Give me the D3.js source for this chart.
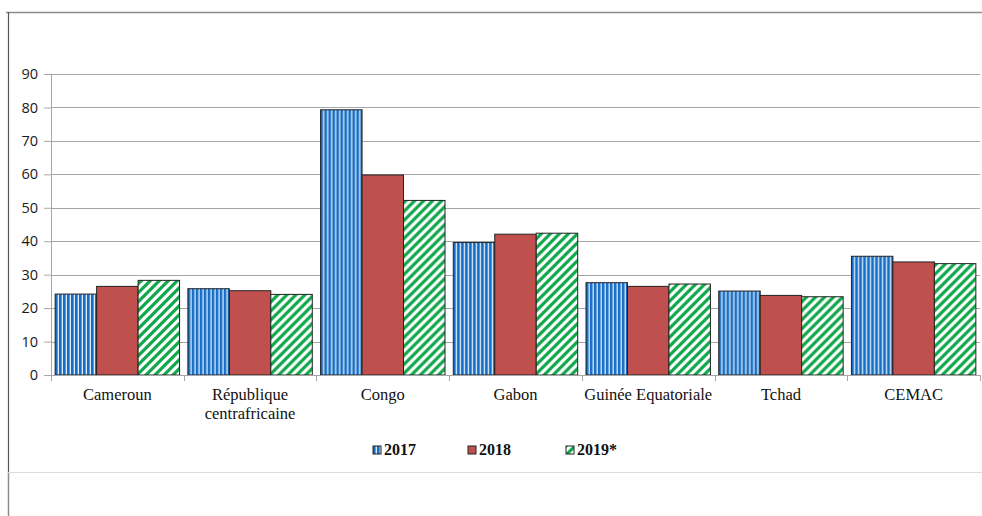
<!DOCTYPE html>
<html>
<head>
<meta charset="utf-8">
<script src="https://cdn.jsdelivr.net/npm/d3@7"></script>
<style>
  body { margin: 0; background: #fff; }
  svg { display: block; }
</style>
</head>
<body>
<div id="chart"></div>
<script>
// data
const categories = ["Cameroun", "République centrafricaine", "Congo", "Gabon", "Guinée Equatoriale", "Tchad", "CEMAC"];
const seriesNames = ["2017", "2018", "2019*"];
const values2017 = [24.2, 25.8, 79.3, 39.6, 27.6, 25.1, 35.5];
const values2018 = [26.5, 25.2, 59.8, 42.1, 26.5, 23.8, 33.8];
const values2019 = [28.3, 24.1, 52.2, 42.4, 27.2, 23.4, 33.3];
const yTicks = [0, 10, 20, 30, 40, 50, 60, 70, 80, 90];

const W = 982, H = 516;
const margin = { top: 74, right: 2, bottom: 141, left: 51 };
const width = W - margin.left - margin.right;
const height = H - margin.top - margin.bottom;

const svg = d3.select("#chart").append("svg")
  .attr("width", W).attr("height", H);

// patterns
const defs = svg.append("defs");
const p17 = defs.append("pattern").attr("id", "p2017")
  .attr("patternUnits", "userSpaceOnUse").attr("width", 4).attr("height", 4);
p17.append("rect").attr("width", 4).attr("height", 4).attr("fill", "#a4cbef");
p17.append("rect").attr("width", 2.5).attr("height", 4).attr("fill", "#176cc3");
p17.append("rect").attr("x", 3.4).attr("width", 0.6).attr("height", 4).attr("fill", "#ffffff");

const p19 = defs.append("pattern").attr("id", "p2019")
  .attr("patternUnits", "userSpaceOnUse").attr("width", 9).attr("height", 9);
p19.append("rect").attr("width", 9).attr("height", 9).attr("fill", "#fff");
p19.append("path")
  .attr("d", "M-1,10 L10,-1 M-3,3 L3,-3 M6,12 L12,6")
  .attr("stroke", "#0fa84a").attr("stroke-width", 3.2);

const fills = ["url(#p2017)", "#c0504d", "url(#p2019)"];

// frame around the chart area (as in the source document)
svg.append("line").attr("x1", 6).attr("x2", W).attr("y1", 12.5).attr("y2", 12.5)
  .attr("stroke", "#8c8c8c").attr("stroke-width", 1.5);
svg.append("line").attr("x1", 8.5).attr("x2", 8.5).attr("y1", 12).attr("y2", 472)
  .attr("stroke", "#555").attr("stroke-width", 1.2);
svg.append("line").attr("x1", 8.5).attr("x2", 8.5).attr("y1", 472).attr("y2", H)
  .attr("stroke", "#8c8c8c").attr("stroke-width", 1.5);
svg.append("line").attr("x1", 8).attr("x2", W).attr("y1", 472.5).attr("y2", 472.5)
  .attr("stroke", "#dcdcdc").attr("stroke-width", 1);

const g = svg.append("g").attr("transform", `translate(${margin.left},${margin.top})`);

const x0 = d3.scaleBand().domain(categories).range([0, width]).paddingInner(0).paddingOuter(0);
const x1 = d3.scaleBand().domain(seriesNames).range([0, x0.bandwidth()]).paddingOuter(0.1);
const y = d3.scaleLinear().domain([0, 90]).range([height, 0]);

// gridlines
g.append("g").selectAll("line").data(yTicks.filter(d => d > 0)).enter().append("line")
  .attr("x1", 0).attr("x2", width)
  .attr("y1", d => Math.round(y(d)) + 0.5).attr("y2", d => Math.round(y(d)) + 0.5)
  .attr("stroke", "#a6a6a6").attr("stroke-width", 1);

// bars
const table = categories.map((c, i) => ({
  cat: c,
  vals: [values2017[i], values2018[i], values2019[i]]
}));

const groups = g.append("g").selectAll("g").data(table).enter().append("g")
  .attr("transform", d => `translate(${x0(d.cat)},0)`);

groups.selectAll("rect")
  .data(d => d.vals.map((v, k) => ({ s: seriesNames[k], k: k, v: v })))
  .enter().append("rect")
  .attr("x", d => x1(d.s))
  .attr("y", d => y(d.v))
  .attr("width", x1.bandwidth())
  .attr("height", d => height - y(d.v))
  .attr("fill", d => fills[d.k])
  .attr("stroke", "#222")
  .attr("stroke-width", 1);

// y axis
const yAxis = g.append("g")
  .call(d3.axisLeft(y).tickValues(yTicks).tickSize(7).tickSizeOuter(0).tickFormat(d3.format("d")));
yAxis.select(".domain").attr("stroke", "#a6a6a6");
yAxis.selectAll(".tick line").attr("stroke", "#a6a6a6");
yAxis.selectAll("text")
  .attr("font-family", "'Open Sans', 'Noto Sans', sans-serif")
  .attr("font-size", 14.5).attr("fill", "#1a1a1a").attr("x", -13);

// x axis baseline + category ticks
const xAxis = g.append("g").attr("transform", `translate(0,${height})`);
xAxis.append("line").attr("x1", 0).attr("x2", width).attr("y1", 0.5).attr("y2", 0.5)
  .attr("stroke", "#a6a6a6");
const bounds = categories.map(c => x0(c)).concat([width]);
xAxis.selectAll("line.tick").data(bounds).enter().append("line")
  .attr("class", "tick")
  .attr("x1", d => Math.round(d) + 0.5).attr("x2", d => Math.round(d) + 0.5)
  .attr("y1", 0).attr("y2", 6)
  .attr("stroke", "#a6a6a6");

const labelLines = {
  "République centrafricaine": ["République", "centrafricaine"]
};
const labels = xAxis.selectAll("text.cat").data(categories).enter().append("text")
  .attr("class", "cat")
  .attr("x", d => x0(d) + x0.bandwidth() / 2)
  .attr("y", 25)
  .attr("text-anchor", "middle")
  .attr("font-family", "'Liberation Serif', 'Times New Roman', serif")
  .attr("font-size", 16.5)
  .attr("fill", "#111");
labels.each(function(d) {
  const lines = labelLines[d] || [d];
  const t = d3.select(this);
  lines.forEach((ln, i) => {
    t.append("tspan").attr("x", x0(d) + x0.bandwidth() / 2).attr("dy", i === 0 ? 0 : 19).text(ln);
  });
});

// legend
const legendX = [373, 468, 566];
const legend = svg.append("g").selectAll("g").data(seriesNames).enter().append("g")
  .attr("transform", (d, i) => `translate(${legendX[i]},${446})`);
legend.append("rect").attr("width", 8).attr("height", 8)
  .attr("fill", (d, i) => fills[i]).attr("stroke", "#222").attr("stroke-width", 1);
legend.append("text").attr("x", 11).attr("y", 9)
  .attr("font-family", "'Liberation Serif', 'Times New Roman', serif")
  .attr("font-weight", "bold").attr("font-size", 16).attr("fill", "#111")
  .text(d => d);
</script>
</body>
</html>
